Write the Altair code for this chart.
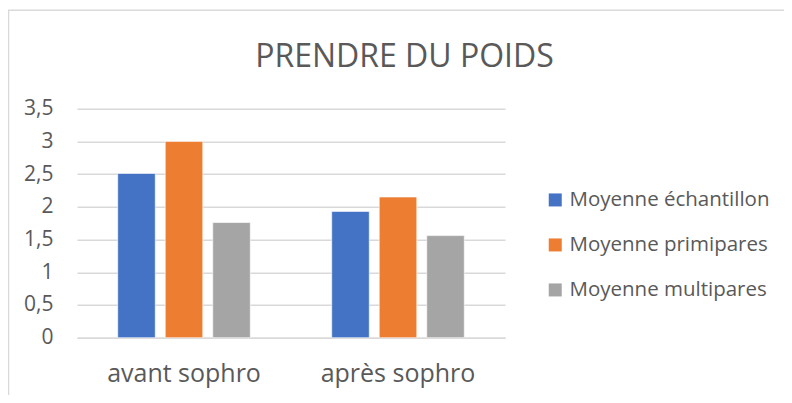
import altair as alt
import pandas as pd

categories = ["avant sophro", "après sophro"]
series = ["Moyenne échantillon", "Moyenne primipares", "Moyenne multipares"]
values_avant = [2.51, 3.0, 1.76]
values_apres = [1.93, 2.15, 1.56]
colors = ["#4472C4", "#ED7D31", "#A5A5A5"]
title_text = "PRENDRE DU POIDS"

rows = []
for s, va, vp in zip(series, values_avant, values_apres):
    rows.append({"cat": categories[0], "serie": s, "val": va})
    rows.append({"cat": categories[1], "serie": s, "val": vp})
df = pd.DataFrame(rows)

FONT = "Open Sans"
TXT = "#595959"
GRID = "#d9d9d9"

bars = alt.Chart(df).mark_bar(stroke="white", strokeWidth=0.6).encode(
    x=alt.X("cat:N", sort=categories, title=None,
            scale=alt.Scale(paddingInner=0, paddingOuter=0),
            axis=alt.Axis(labelAngle=0, labelFontSize=25, labelColor=TXT, labelFont=FONT,
                          labelPadding=24, ticks=False, domainColor=GRID, domainWidth=1.5,
                          grid=False)),
    xOffset=alt.XOffset("serie:N", sort=series,
                        scale=alt.Scale(paddingInner=0.21, paddingOuter=0.857)),
    y=alt.Y("val:Q", title=None,
            scale=alt.Scale(domain=[0, 3.5], nice=False),
            axis=alt.Axis(values=[0, 0.5, 1, 1.5, 2, 2.5, 3, 3.5],
                          labelExpr="replace(format(datum.value, ''), '.', ',')",
                          labelFontSize=21, labelColor=TXT, labelFont=FONT,
                          labelPadding=24, ticks=False, domain=False,
                          gridColor=GRID, gridWidth=1.5)),
    color=alt.Color("serie:N", sort=series,
                    scale=alt.Scale(domain=series, range=colors),
                    legend=alt.Legend(title=None, orient="none", legendX=468, legendY=81,
                                      symbolType="square", symbolSize=169, symbolStrokeWidth=0,
                                      labelFontSize=20.5, labelColor=TXT, labelFont=FONT,
                                      rowPadding=24, labelOffset=4, padding=0,
                                      labelLimit=300)),
)

title_df = pd.DataFrame({"t": [title_text]})
title = alt.Chart(title_df).mark_text(
    font=FONT, fontSize=32, color=TXT, baseline="alphabetic", align="center"
).encode(text="t:N", x=alt.value(327.5), y=alt.value(-42))

frame_df = pd.DataFrame({"k": [1]})
frame = alt.Chart(frame_df).mark_rect(fill="transparent", stroke=GRID, strokeWidth=1.5, clip=False).encode(
    x=alt.value(-68.5), x2=alt.value(800), y=alt.value(-98.5), y2=alt.value(400)
)

chart = alt.layer(frame, bars, title).properties(
    width=428, height=229,
    autosize=alt.AutoSizeParams(type="none"),
    padding={"left": 69, "top": 100.7, "right": 279, "bottom": 57},
    view=alt.ViewBackground(stroke="transparent", strokeWidth=0),
).configure_view(stroke="transparent", strokeWidth=0
).configure_axisX(grid=False).configure(background="white")

chart.save("out.html", embed_options={"renderer": "svg", "actions": False})
